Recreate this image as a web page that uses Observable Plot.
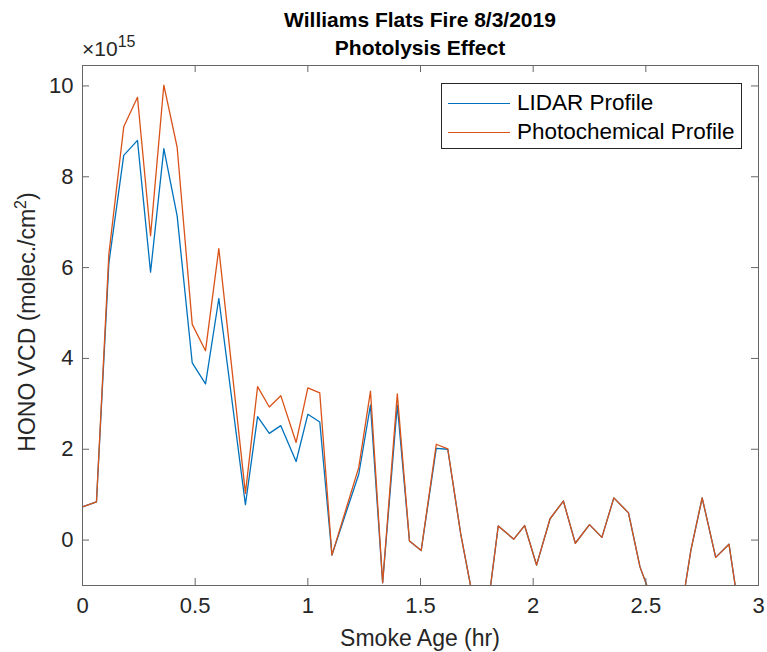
<!DOCTYPE html>
<html>
<head>
<meta charset="utf-8">
<script src="https://cdn.jsdelivr.net/npm/d3@7"></script>
<script src="https://cdn.jsdelivr.net/npm/@observablehq/plot@0.6"></script>
<style>
  html, body { margin: 0; padding: 0; background: #fff; }
  #wrap { position: relative; width: 767px; height: 652px; font-family: "Liberation Sans", Arial, sans-serif; color: #262626; }
  #chart { position: absolute; left: 0; top: 0; }
  .title { position: absolute; left: 82px; width: 676px; text-align: center; font-weight: bold; font-size: 21px; line-height: 1; color: #000; }
  #t1 { top: 9px; }
  #t2 { top: 37px; }
  #exp { position: absolute; left: 82px; top: 38px; font-size: 21px; line-height: 1; }
  #exp sup { font-size: 16px; vertical-align: 0; position: relative; top: -9px; }
  #ylab { position: absolute; left: 27px; top: 322px; transform: translate(-50%, -50%) rotate(-90deg); white-space: nowrap; font-size: 23px; }
  #ylab sup { font-size: 16px; vertical-align: 0; position: relative; top: -9px; }
  #xlab { position: absolute; left: 82px; width: 676px; top: 627px; text-align: center; font-size: 23px; line-height: 1; }
  #legend { position: absolute; left: 441px; top: 83px; width: 301px; height: 66px; border: 1px solid #262626; background: #fff; box-sizing: border-box; }
  .row { position: absolute; left: 6px; font-size: 22.5px; display: flex; align-items: center; line-height: 1; color: #000; }
  .row .sw { display: inline-block; width: 62px; height: 0; border-top: 1.3px solid; margin-right: 7px; }
</style>
</head>
<body>
<div id="wrap">
  <div id="chart"></div>
  <div class="title" id="t1">Williams Flats Fire 8/3/2019</div>
  <div class="title" id="t2">Photolysis Effect</div>
  <div id="exp">×10<sup>15</sup></div>
  <div id="ylab">HONO VCD (molec./cm<sup>2</sup>)</div>
  <div id="xlab">Smoke Age (hr)</div>
  <div id="legend">
    <div class="row" style="top:8px"><span class="sw" style="border-color:#0072BD"></span>LIDAR Profile</div>
    <div class="row" style="top:37px"><span class="sw" style="border-color:#D95319"></span>Photochemical Profile</div>
  </div>
</div>
<script>
// Smoke age (hr)
const age = [0, 0.062, 0.117, 0.183, 0.244, 0.302, 0.361, 0.42, 0.487, 0.546,
  0.605, 0.723, 0.777, 0.829, 0.88, 0.948, 1.0, 1.053, 1.107, 1.226,
  1.278, 1.332, 1.397, 1.451, 1.503, 1.570, 1.621, 1.678, 1.737, 1.797,
  1.845, 1.914, 1.962, 2.015, 2.075, 2.134, 2.187, 2.25, 2.305, 2.358,
  2.423, 2.474, 2.532, 2.59, 2.645, 2.70, 2.75, 2.81, 2.869, 2.93];
// HONO VCD, units of 1e15 molec/cm2
const lidar = [0.73, 0.84, 6.1, 8.47, 8.8, 5.9, 8.62, 7.14, 3.9, 3.44,
  5.32, 0.78, 2.72, 2.35, 2.52, 1.73, 2.77, 2.6, -0.33, 1.45,
  2.97, -0.94, 2.97, -0.02, -0.23, 2.02, 2.0, 0.15, -1.39, -1.55,
  0.31, 0.02, 0.32, -0.55, 0.47, 0.86, -0.07, 0.34, 0.06, 0.93,
  0.60, -0.59, -1.37, -1.6, -1.95, -0.22, 0.93, -0.38, -0.09, -2.1];
const photo = [0.73, 0.84, 6.3, 9.1, 9.75, 6.7, 10.02, 8.65, 4.75, 4.17,
  6.42, 1.03, 3.38, 2.93, 3.18, 2.15, 3.35, 3.24, -0.33, 1.6,
  3.28, -0.94, 3.22, -0.02, -0.23, 2.11, 2.01, 0.15, -1.39, -1.55,
  0.31, 0.02, 0.32, -0.55, 0.47, 0.86, -0.07, 0.34, 0.06, 0.93,
  0.60, -0.59, -1.37, -1.6, -1.95, -0.22, 0.93, -0.38, -0.09, -2.1];
const seriesNames = ["LIDAR Profile", "Photochemical Profile"];
const seriesColors = ["#0072BD", "#D95319"];
const xTicks = [0, 0.5, 1, 1.5, 2, 2.5, 3];
const xTickLabels = ["0", "0.5", "1", "1.5", "2", "2.5", "3"];
const yTicks = [0, 2, 4, 6, 8, 10];
const yTickLabels = ["0", "2", "4", "6", "8", "10"];
const xDomain = [0, 3];
const yDomain = [-1, 10.45];

const rows = [];
age.forEach((a, i) => {
  rows.push({age: a, vcd: lidar[i], series: seriesNames[0]});
});
age.forEach((a, i) => {
  rows.push({age: a, vcd: photo[i], series: seriesNames[1]});
});

const W = 767, H = 652, mT = 65, mR = 9, mB = 67, mL = 82;
const plotW = W - mL - mR, plotH = H - mT - mB;
const tickLen = 7;
const axisGray = "#666";
const chart = Plot.plot({
  width: W,
  height: H,
  marginTop: mT,
  marginRight: mR,
  marginBottom: mB,
  marginLeft: mL,
  style: {fontFamily: "'Liberation Sans', Arial, sans-serif", fontSize: "22px", color: "#262626", background: "#fff"},
  x: {domain: xDomain},
  y: {domain: yDomain},
  color: {domain: seriesNames, range: seriesColors},
  marks: [
    Plot.line(rows, {x: "age", y: "vcd", z: "series", stroke: "series", strokeWidth: 1.3, clip: true}),
    Plot.frame({stroke: axisGray}),
    // inward ticks, MATLAB-style, on all four sides
    Plot.tickX(xTicks, {x: d => d, stroke: axisGray, insetTop: plotH - tickLen}),
    Plot.tickX(xTicks, {x: d => d, stroke: axisGray, insetBottom: plotH - tickLen}),
    Plot.tickY(yTicks, {y: d => d, stroke: axisGray, insetRight: plotW - tickLen}),
    Plot.tickY(yTicks, {y: d => d, stroke: axisGray, insetLeft: plotW - tickLen}),
    Plot.axisX({anchor: "bottom", ticks: xTicks, tickSize: 0, tickPadding: 12, tickFormat: d => xTickLabels[xTicks.indexOf(d)], fill: "#262626", label: null}),
    Plot.axisY({anchor: "left", ticks: yTicks, tickSize: 0, tickPadding: 9, tickFormat: d => yTickLabels[yTicks.indexOf(d)], fill: "#262626", label: null})
  ]
});
document.getElementById("chart").appendChild(chart);
</script>
</body>
</html>
